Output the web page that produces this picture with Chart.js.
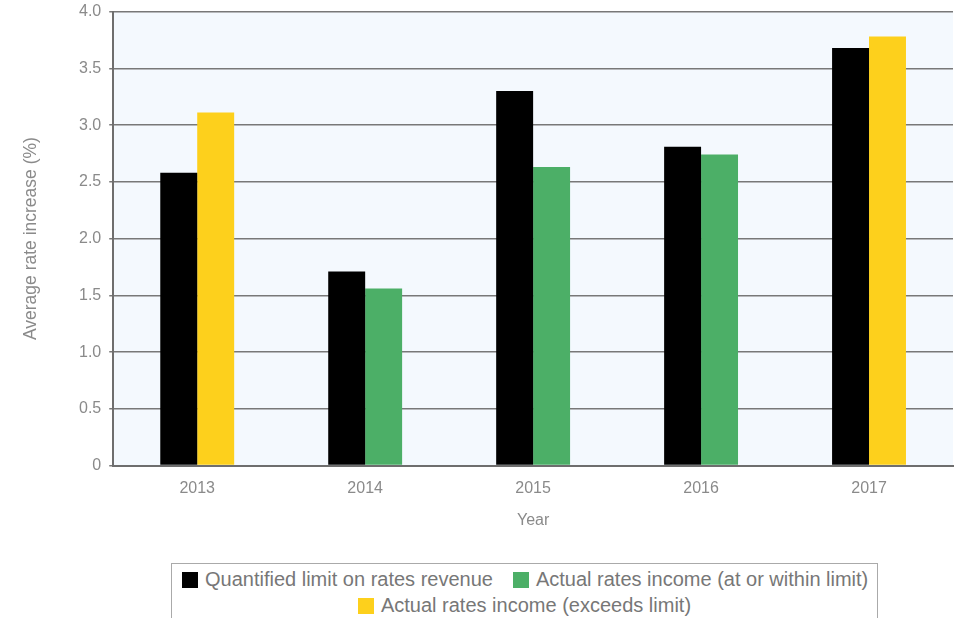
<!DOCTYPE html>
<html>
<head>
<meta charset="utf-8">
<script src="https://cdn.jsdelivr.net/npm/chart.js@4"></script>
<style>
  html, body { margin: 0; padding: 0; background: #fff; }
  #wrap { position: relative; width: 956px; height: 618px; overflow: hidden; font-family: "Liberation Sans", Arial, sans-serif; }
  #box { position: absolute; left: 0; top: -6px; width: 956px; height: 536px; }
  #legend { position: absolute; left: 171px; top: 563px; width: 707px; height: 70px; border: 1px solid #aaa; box-sizing: border-box; text-align: center; color: #777; font-size: 20px; line-height: 26px; padding-top: 2px; }
  #legend .row { white-space: nowrap; }
  #legend span.item { display: inline-block; margin: 0 10px; white-space: nowrap; }
  #legend span.sw { display: inline-block; width: 16px; height: 16px; vertical-align: -2px; margin-right: 7px; }
</style>
</head>
<body>
<div id="wrap">
  <div id="box"><canvas id="c"></canvas></div>
  <div id="legend"></div>
</div>
<script>
const categories = ["2013", "2014", "2015", "2016", "2017"];
const limitValues = [2.58, 1.71, 3.30, 2.81, 3.68];
const withinValues = [null, 1.56, 2.63, 2.74, null];
const exceedsValues = [3.11, null, null, null, 3.78];
const seriesNames = ["Quantified limit on rates revenue", "Actual rates income (at or within limit)", "Actual rates income (exceeds limit)"];
const seriesColors = ["#000000", "#4caf67", "#fdd01c"];
const yTicks = [0, 0.5, 1.0, 1.5, 2.0, 2.5, 3.0, 3.5, 4.0];

const FONT = "'Liberation Sans', Arial, sans-serif";

const bgPlugin = {
  id: 'bg',
  beforeDraw(chart) {
    const a = chart.chartArea, ctx = chart.ctx;
    ctx.save();
    ctx.fillStyle = '#f4f9fe';
    ctx.fillRect(a.left, a.top, a.right - a.left, a.bottom - a.top);
    ctx.restore();
  }
};

const datasets = [limitValues, withinValues, exceedsValues].map((d, i) => ({
  label: seriesNames[i],
  data: d,
  backgroundColor: seriesColors[i],
  borderWidth: 0,
  skipNull: true,
  categoryPercentage: 0.44,
  barPercentage: 1.0
}));

const chart = new Chart(document.getElementById('c'), {
  type: 'bar',
  data: { labels: categories, datasets },
  plugins: [bgPlugin],
  options: {
    responsive: true,
    maintainAspectRatio: false,
    animation: false,
    layout: { padding: { top: 0, right: 3, left: 21, bottom: 0 } },
    plugins: { legend: { display: false }, tooltip: { enabled: false } },
    scales: {
      x: {
        grid: { display: false, drawTicks: false },
        border: { display: true, color: '#6e6e6e', width: 2 },
        ticks: { color: '#8a8a8a', font: { family: FONT, size: 16 }, padding: 13 },
        title: { display: true, text: 'Year', color: '#8a8a8a', font: { family: FONT, size: 16 }, padding: { top: 0, bottom: 0 } }
      },
      y: {
        min: 0, max: 4,
        afterBuildTicks(axis) { axis.ticks = yTicks.map(v => ({ value: v })); },
        grid: { color: '#787878', lineWidth: 1.5, tickLength: 4, drawTicks: true },
        border: { display: true, color: '#6e6e6e', width: 2 },
        ticks: {
          color: '#8a8a8a', font: { family: FONT, size: 16 }, padding: 8,
          callback: v => v === 0 ? '0' : v.toFixed(1)
        },
        title: { display: true, text: 'Average rate increase (%)', color: '#8a8a8a', font: { family: FONT, size: 17.5 }, padding: { top: 0, bottom: 29 } }
      }
    }
  }
});

const leg = document.getElementById('legend');
const order = [[0, 1], [2]];
order.forEach(row => {
  const line = document.createElement('div');
  line.className = 'row';
  row.forEach(i => {
    const it = document.createElement('span');
    it.className = 'item';
    const sw = document.createElement('span');
    sw.className = 'sw';
    sw.style.background = seriesColors[i];
    it.appendChild(sw);
    it.appendChild(document.createTextNode(seriesNames[i]));
    line.appendChild(it);
  });
  leg.appendChild(line);
});
</script>
</body>
</html>
